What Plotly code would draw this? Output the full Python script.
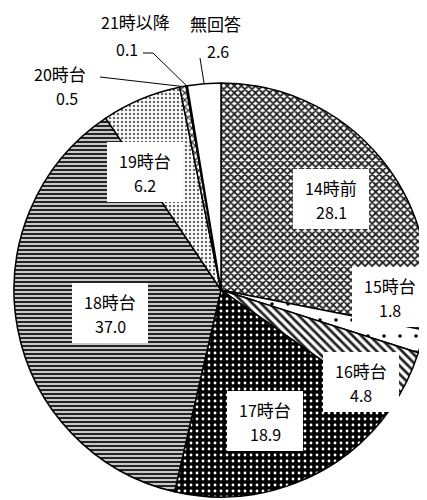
import math
import re
import plotly.graph_objects as go

# ---- data ----
labels = ["14時前", "15時台", "16時台", "17時台", "18時台", "19時台", "20時台", "21時以降", "無回答"]
values = [28.1, 1.8, 4.8, 18.9, 37.0, 6.2, 0.5, 0.1, 2.6]
value_text = ["28.1", "1.8", "4.8", "18.9", "37.0", "6.2", "0.5", "0.1", "2.6"]

# ---- styles ----
W, H = 427, 500
OFF = 8  # page body margin
CX, CY, R = 221, 290, 207  # in window pixels
FONT = "Noto Sans CJK JP, Noto Sans, sans-serif"
FS_CJK = 17
FS_NUM = 16

pat_shape = ["x", ".", "\\", ".", "-", ".", "x", "", ""]
pat_fg = ["#222222", "#000000", "#222222", "#ffffff", "#111111", "#666666", "#333333", "#000000", "#000000"]
pat_bg = ["#ffffff", "#ffffff", "#ffffff", "#000000", "#c8c8c8", "#ffffff", "#ffffff", "#000000", "#ffffff"]
pat_size = [5, 16, 6, 6, 4, 4, 5, 4, 4]
pat_sol = [0.6, 0.04, 0.45, 0.18, 0.45, 0.3, 0.4, 0.3, 0.3]

# label layout (window pixel positions of label boxes / outside text)
inside_pos = {"14時前": (331, 199), "15時台": (390, 297), "16時台": (361, 382),
              "17時台": (265, 421), "18時台": (110, 313), "19時台": (145, 172)}
outside_pos = {"20時台": ((60, 73), (67, 98), [(100, 77)]),
               "21時以降": ((135, 21), (127, 49), [(143, 53), (153, 53)]),
               "無回答": ((215, 23), (218, 51), [(200, 58)])}

def px(x):
    return (x - OFF) / W

def py(y):
    return 1 - (y - OFF) / H

def mixed(t):
    return re.sub(r"([0-9.]+)", lambda m: f"<span style='font-size:{FS_NUM}px'>{m.group(1)}</span>", t)

fig = go.Figure(go.Pie(
    labels=labels, values=values, sort=False, direction="clockwise", rotation=0,
    textinfo="none", hoverinfo="label+value", showlegend=False,
    marker=dict(colors=pat_bg, line=dict(color="#000000", width=1.5),
                pattern=dict(shape=pat_shape, fgcolor=pat_fg, bgcolor=pat_bg,
                             size=pat_size, solidity=pat_sol, fillmode="replace")),
    domain=dict(x=[px(CX - R), px(CX + R)], y=[py(CY + R), py(CY - R)]),
))

def text_ann(x, y, t, size):
    return dict(x=px(x), y=py(y), xref="paper", yref="paper", text=t, showarrow=False,
                xanchor="center", yanchor="middle",
                font=dict(size=size, color="#000", family=FONT))

annotations = []
shapes = []
total = sum(values)
cum = 0.0
for lab, val, vt in zip(labels, values, value_text):
    mid = (cum + val / 2) / total * 2 * math.pi
    cum += val
    ex = CX + R * math.sin(mid)
    ey = CY - R * math.cos(mid)
    if lab in inside_pos:
        bx, by = inside_pos[lab]
        shapes.append(dict(type="rect", xref="paper", yref="paper", layer="above",
                           x0=px(bx - 38), x1=px(bx + 38), y0=py(by + 30), y1=py(by - 30),
                           fillcolor="#ffffff", line=dict(width=0)))
        annotations.append(text_ann(bx, by - 12, mixed(lab), FS_CJK))
        annotations.append(text_ann(bx, by + 13, vt, FS_NUM))
    elif lab in outside_pos:
        (nx, ny), (vx, vy), pts = outside_pos[lab]
        annotations.append(text_ann(nx, ny, mixed(lab), FS_CJK))
        annotations.append(text_ann(vx, vy, vt, FS_NUM))
        path_pts = pts + [(ex, ey)]
        d = "M " + " L ".join(f"{px(a):.5f},{py(b):.5f}" for a, b in path_pts)
        shapes.append(dict(type="path", xref="paper", yref="paper", path=d,
                           line=dict(color="#000", width=1)))

fig.update_layout(width=W, height=H, margin=dict(l=0, r=0, t=0, b=0),
                  paper_bgcolor="#ffffff", plot_bgcolor="#ffffff",
                  annotations=annotations, shapes=shapes)
fig.write_html("out.html")
